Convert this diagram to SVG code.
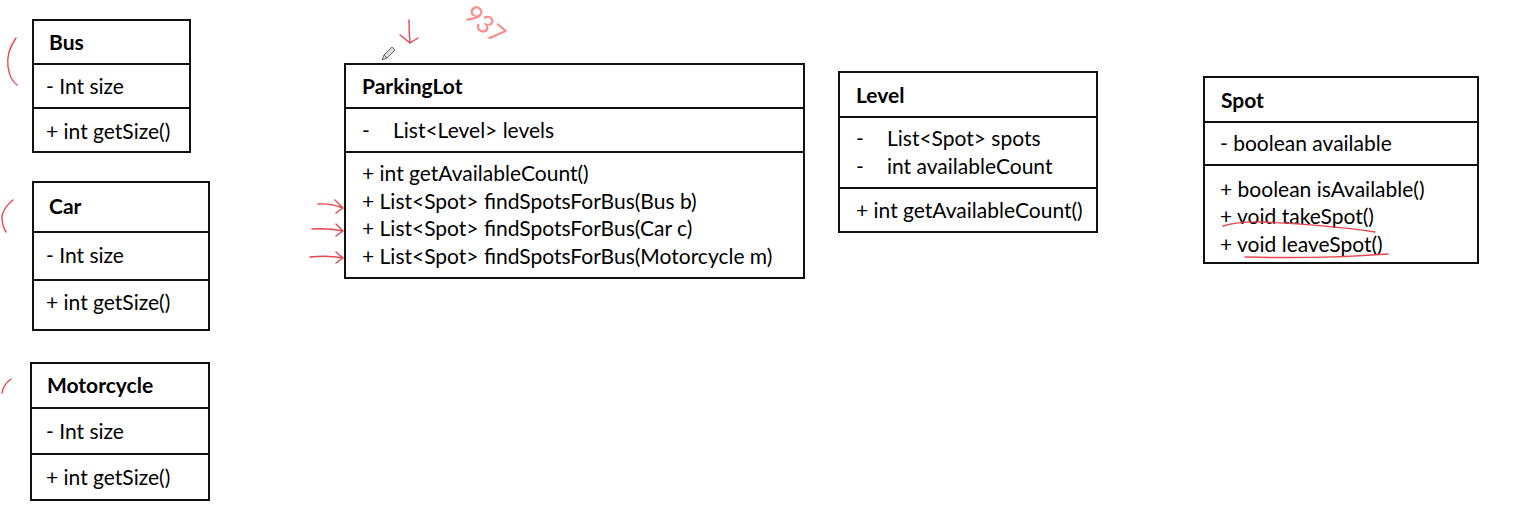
<svg xmlns="http://www.w3.org/2000/svg" width="1514" height="530" viewBox="0 0 1514 530">
<style>
.box{fill:#fff;stroke:#111;stroke-width:2}
.div{stroke:#111;stroke-width:2}
text{font-family:Lato,"Open Sans","Liberation Sans",sans-serif;font-size:21px;fill:#000}
.t{font-weight:bold}
.red{fill:none;stroke:#e8464f;stroke-width:1.4;stroke-linecap:round;stroke-linejoin:round}
</style>
<rect width="1514" height="530" fill="#fff"/>
<g id="bus">
<rect class="box" x="33" y="20" width="157" height="132"/>
<line class="div" x1="33" y1="64" x2="190" y2="64"/>
<line class="div" x1="33" y1="108" x2="190" y2="108"/>
<text class="t" x="49" y="50">Bus</text>
<text x="46" y="94">- Int size</text>
<text x="46" y="139">+ int getSize()</text>
</g>
<g id="car">
<rect class="box" x="33" y="182" width="176" height="148"/>
<line class="div" x1="33" y1="232" x2="209" y2="232"/>
<line class="div" x1="33" y1="280" x2="209" y2="280"/>
<text class="t" x="49" y="214">Car</text>
<text x="46" y="263">- Int size</text>
<text x="46" y="310">+ int getSize()</text>
</g>
<g id="motorcycle">
<rect class="box" x="31" y="363" width="178" height="137"/>
<line class="div" x1="31" y1="408" x2="209" y2="408"/>
<line class="div" x1="31" y1="454" x2="209" y2="454"/>
<text class="t" x="47" y="393">Motorcycle</text>
<text x="46" y="439">- Int size</text>
<text x="46" y="485">+ int getSize()</text>
</g>
<g id="parkinglot">
<rect class="box" x="345" y="64" width="459" height="214"/>
<line class="div" x1="345" y1="108" x2="804" y2="108"/>
<line class="div" x1="345" y1="152" x2="804" y2="152"/>
<text class="t" x="362" y="94">ParkingLot</text>
<text x="362" y="138">-</text>
<text x="393" y="138">List&lt;Level&gt; levels</text>
<text x="362" y="181">+ int getAvailableCount()</text>
<text x="362" y="209">+ List&lt;Spot&gt; findSpotsForBus(Bus b)</text>
<text x="362" y="236">+ List&lt;Spot&gt; findSpotsForBus(Car c)</text>
<text x="362" y="264">+ List&lt;Spot&gt; findSpotsForBus(Motorcycle m)</text>
</g>
<g id="level">
<rect class="box" x="839" y="72" width="258" height="160"/>
<line class="div" x1="839" y1="117" x2="1097" y2="117"/>
<line class="div" x1="839" y1="188" x2="1097" y2="188"/>
<text class="t" x="856" y="103">Level</text>
<text x="856" y="146">-</text>
<text x="887" y="146">List&lt;Spot&gt; spots</text>
<text x="856" y="174">-</text>
<text x="887" y="174">int availableCount</text>
<text x="856" y="218">+ int getAvailableCount()</text>
</g>
<g id="spot">
<rect class="box" x="1204" y="77" width="274" height="186"/>
<line class="div" x1="1204" y1="122" x2="1478" y2="122"/>
<line class="div" x1="1204" y1="165" x2="1478" y2="165"/>
<text class="t" x="1221" y="108">Spot</text>
<text x="1220" y="151">- boolean available</text>
<text x="1220" y="197">+ boolean isAvailable()</text>
<text x="1220" y="224">+ void takeSpot()</text>
<text x="1220" y="252">+ void leaveSpot()</text>
</g>
<g id="annotations">
<text x="463" y="17" transform="rotate(40 463 17)" style="font-size:25px;fill:#ff8a8a">937</text>
<path class="red" d="M16,38 Q6,52 8,67 Q10,80 17,85"/>
<path class="red" d="M13,200 Q4,207 2,216 Q2,226 6,232"/>
<path class="red" d="M11,379 Q3,385 2,393"/>
<path class="red" d="M409,20 Q409,32 410,43 M400,35 L410,43 L418,38"/>
<path d="M384,55 L392,47 L395,50 L387,58 Z M384,55 L382,60 L387,58" fill="#ddd" stroke="#666" stroke-width="1"/>
<path class="red" d="M318,204 Q330,203 343,208 M335,200 L343,208 L336,213"/>
<path class="red" d="M312,229 Q328,228 343,231 M336,224 L343,231 L336,236"/>
<path class="red" d="M310,257 Q328,255 343,258 M336,252 L343,258 L336,263"/>
<path class="red" d="M1223,226 Q1240,221 1262,222 Q1330,225 1375,232"/>
<path class="red" d="M1245,257 Q1320,259 1388,254"/>
</g>
<g id="connectors"></g>
</svg>
